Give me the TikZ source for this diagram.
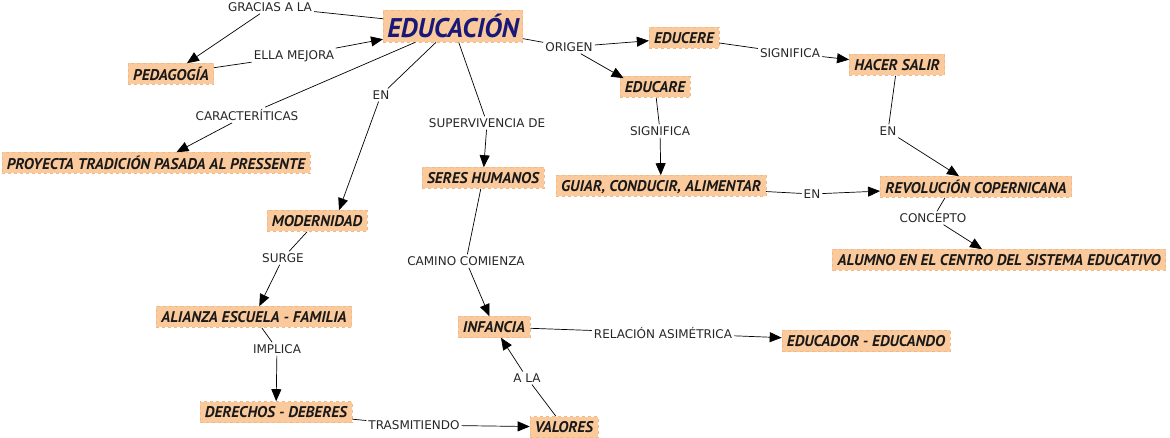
\documentclass[tikz,border=0pt]{standalone}
\usepackage{fontspec}
\usetikzlibrary{arrows.meta}
\newfontfamily\lblfont{DejaVu Sans}
\newfontfamily\boxfont{PT Sans}
\definecolor{peach}{RGB}{251,202,156}
\definecolor{peachedge}{RGB}{238,186,138}
\definecolor{navy}{RGB}{24,24,120}
\tikzset{
  x=1pt, y=-1pt,
  concept/.style={fill=peach, draw=peachedge, dashed, line width=0.6pt,
    font=\boxfont\bfseries\itshape\fontsize{15.5}{15.5}\selectfont, text=black!90,
    inner xsep=5pt, minimum height=21pt, text depth=0.5pt},
  lbl/.style={font=\lblfont\fontsize{12}{12}\selectfont, text=black!85, inner sep=2pt},
  link/.style={line width=0.7pt, black},
  arr/.style={line width=0.7pt, black, -{Triangle[length=12pt,width=10pt]}}
}
\begin{document}
\begin{tikzpicture}
\useasboundingbox (0,0) rectangle (1170,438);
% concepts
\node[concept, minimum height=32pt, inner xsep=4pt] (edu) at (453,26) {\textcolor{navy}{\fontsize{27}{27}\selectfont\scalebox{1.0}[1]{EDUCACIÓN}}};
\node[concept] (ped) at (171,74) {PEDAGOGÍA};
\node[concept] (educere) at (684,38) {EDUCERE};
\node[concept] (educare) at (655,87) {EDUCARE};
\node[concept] (hacer) at (897,65) {HACER SALIR};
\node[concept] (proy) at (156,163) {PROYECTA TRADICIÓN PASADA AL PRESSENTE};
\node[concept] (ser) at (483,178) {SERES HUMANOS};
\node[concept] (guiar) at (661,186) {GUIAR, CONDUCIR, ALIMENTAR};
\node[concept] (rev) at (976,187) {REVOLUCIÓN COPERNICANA};
\node[concept] (mod) at (317,221) {MODERNIDAD};
\node[concept] (alumno) at (999,260) {ALUMNO EN EL CENTRO DEL SISTEMA EDUCATIVO};
\node[concept] (ali) at (254,317) {ALIANZA ESCUELA - FAMILIA};
\node[concept] (inf) at (494,327) {INFANCIA};
\node[concept] (educador) at (866,341) {EDUCADOR - EDUCANDO};
\node[concept] (der) at (276,412) {DERECHOS - DEBERES};
\node[concept] (val) at (564,427) {VALORES};
% labels
\node[lbl] (l1) at (270,7) {GRACIAS A LA};
\node[lbl] (l2) at (294,56) {ELLA MEJORA};
\node[lbl] (l3) at (247,115) {CARACTERÍTICAS};
\node[lbl] (l4) at (381,95) {EN};
\node[lbl] (l5) at (487,123) {SUPERVIVENCIA DE};
\node[lbl] (l6) at (569,47) {ORIGEN};
\node[lbl] (l7) at (790,53) {SIGNIFICA};
\node[lbl] (l8) at (660,131) {SIGNIFICA};
\node[lbl] (l9) at (888,131) {EN};
\node[lbl] (l10) at (812,194) {EN};
\node[lbl] (l11) at (933,218) {CONCEPTO};
\node[lbl] (l12) at (283,258) {SURGE};
\node[lbl] (l13) at (466,261) {CAMINO COMIENZA};
\node[lbl] (l14) at (277,349) {IMPLICA};
\node[lbl] (l15) at (414,425) {TRASMITIENDO};
\node[lbl] (l16) at (527,378) {A LA};
\node[lbl] (l17) at (663,333) {RELACIÓN ASIMÉTRICA};
% connectors
\draw[link] (edu) -- (l1); \draw[arr] (l1) -- (ped);
\draw[link] (ped) -- (l2); \draw[arr] (l2) -- (edu);
\draw[link] (edu) -- (l3); \draw[arr] (l3) -- (proy);
\draw[link] (edu) -- (l4); \draw[arr] (l4) -- ([xshift=22pt]mod.north);
\draw[link] (edu) -- (l5); \draw[arr] (l5) -- (ser);
\draw[link] (edu) -- (l6); \draw[arr] (l6) -- (educere);
\draw[arr] (l6) -- ([xshift=4pt,yshift=-2pt]educare.north west);
\draw[link] (educere) -- (l7); \draw[arr] (l7) -- (hacer);
\draw[link] (educare) -- (l8); \draw[arr] (l8) -- (guiar);
\draw[link] (hacer) -- (l9); \draw[arr] (l9) -- (rev);
\draw[link] (guiar) -- (l10); \draw[arr] (l10) -- (rev);
\draw[link] ([xshift=-31pt]rev.south) -- (l11); \draw[arr] (l11) -- (alumno);
\draw[link] (mod) -- (l12); \draw[arr] (l12) -- (ali);
\draw[link] (ser) -- (l13); \draw[arr] (l13) -- (inf);
\draw[link] (ali) -- (l14); \draw[arr] (l14) -- (der);
\draw[link] (der) -- (l15); \draw[arr] (l15) -- (val);
\draw[link] (val) -- (l16); \draw[arr] (l16) -- (inf);
\draw[link] (inf) -- (l17); \draw[arr] (l17) -- (educador);
\end{tikzpicture}
\end{document}
